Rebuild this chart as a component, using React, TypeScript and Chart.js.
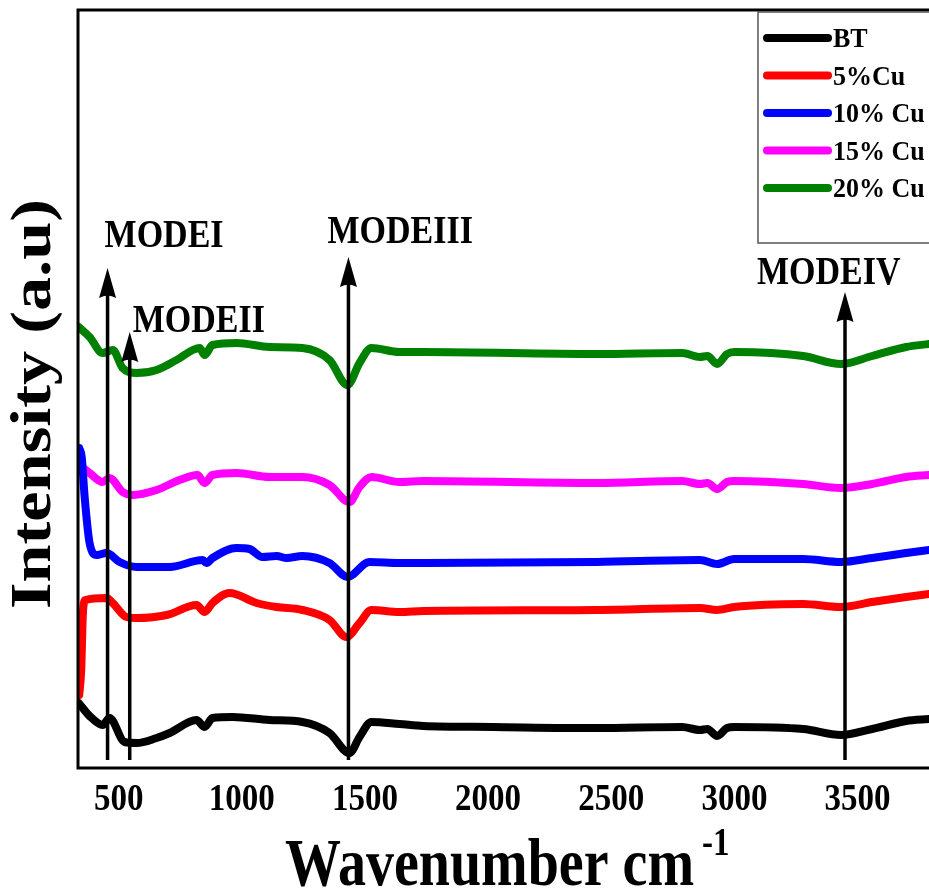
import React, { useEffect, useRef } from "react";
import { Chart, registerables } from "chart.js";

Chart.register(...registerables);

// ---------- data ----------
const xTicks = [500, 1000, 1500, 2000, 2500, 3000, 3500];
const xMin = 335;
const xMax = 3790;

const seriesLabels = ["BT", "5%Cu", "10% Cu", "15% Cu", "20% Cu"];
const seriesColors = ["#000000", "#ff0000", "#0000ff", "#ff00ff", "#008000"];

const btWave = [338, 382, 435, 463, 524, 573, 654, 707, 816, 849, 881, 962, 1113, 1246, 1356, 1437, 1478, 1526, 1640, 1737, 2017, 2439, 2788, 2860, 2890, 2930, 2970, 3000, 3279, 3433, 3559, 3697, 3790];
const btInt = [65, 52, 43, 50, 26, 25, 30, 35, 48, 41, 50, 51, 48, 46, 35, 15, 31, 46, 44, 42, 41, 40, 41, 38, 39, 32, 40, 41, 39, 33, 39, 47, 49];

const cu5Wave = [340, 348, 355, 365, 451, 476, 532, 573, 695, 816, 849, 881, 950, 1060, 1141, 1246, 1356, 1425, 1478, 1526, 1640, 1737, 2439, 2860, 2930, 2999, 3279, 3433, 3559, 3697, 3790];
const cu5Int = [73, 98, 155, 168, 170, 165, 151, 150, 153, 163, 156, 165, 175, 165, 161, 158, 148, 131, 145, 158, 156, 157, 158, 160, 158, 161, 164, 161, 166, 171, 174];

const cu10Wave = [340, 350, 362, 382, 411, 451, 504, 573, 707, 841, 857, 881, 979, 1031, 1084, 1141, 1182, 1246, 1356, 1429, 1518, 1640, 1737, 2439, 2860, 2930, 2999, 3279, 3433, 3559, 3697, 3790];
const cu10Int = [320, 311, 271, 225, 213, 215, 206, 201, 201, 208, 205, 210, 220, 219, 211, 212, 210, 212, 205, 191, 206, 205, 205, 206, 208, 204, 209, 209, 206, 210, 215, 218];

const cu15Wave = [340, 382, 435, 463, 516, 557, 654, 747, 820, 849, 881, 979, 1113, 1246, 1356, 1437, 1478, 1526, 1640, 1737, 2439, 2788, 2860, 2890, 2930, 2970, 3000, 3279, 3433, 3559, 3697, 3790];
const cu15Int = [303, 295, 286, 290, 276, 273, 278, 288, 293, 285, 293, 295, 291, 291, 283, 266, 281, 291, 286, 287, 285, 287, 284, 285, 279, 286, 287, 284, 280, 284, 291, 293];

const cu20Wave = [338, 382, 435, 476, 516, 573, 654, 735, 829, 849, 881, 979, 1113, 1246, 1356, 1429, 1478, 1526, 1640, 1737, 2439, 2788, 2860, 2890, 2930, 2970, 3000, 3279, 3433, 3559, 3697, 3790];
const cu20Int = [441, 431, 415, 418, 400, 395, 398, 408, 420, 413, 423, 425, 421, 420, 408, 383, 405, 420, 416, 416, 414, 415, 411, 412, 404, 414, 416, 412, 404, 412, 421, 424];

const modeLabels = ["MODEI", "MODEII", "MODEIII", "MODEIV"];
const modeWave = [455, 545, 1433, 3449];
const modeTip = [500, 436, 511, 476];
const arrowBase = 8;

const xTitle = "Wavenumber cm";
const xTitleSup = "-1";
const yTitle = "Intensity (a.u)";

// ---------- styles ----------
const FONT = '"Liberation Serif", "Times New Roman", serif';
const modeTextOffset = [
  { dx: -3, dy: -21 },
  { dx: 3, dy: 0 },
  { dx: -21, dy: -14 },
  { dx: -88, dy: -8 },
];

function stretchedText(
  ctx: CanvasRenderingContext2D,
  text: string,
  x: number,
  y: number,
  size: number,
  sy: number,
  align: CanvasTextAlign = "left"
) {
  ctx.save();
  ctx.translate(x, y);
  ctx.scale(1, sy);
  ctx.font = `bold ${size}px ${FONT}`;
  ctx.textAlign = align;
  ctx.textBaseline = "alphabetic";
  ctx.fillStyle = "#000";
  ctx.fillText(text, 0, 0);
  ctx.restore();
}

const decorPlugin = {
  id: "decor",
  afterDatasetsDraw(chart: any) {
    const ctx: CanvasRenderingContext2D = chart.ctx;
    const { left, top, right, bottom } = chart.chartArea;
    const xs = chart.scales.x;
    const ys = chart.scales.y;

    // frame
    ctx.save();
    ctx.strokeStyle = "#000";
    ctx.lineWidth = 3;
    ctx.beginPath();
    ctx.moveTo(right + 5, top);
    ctx.lineTo(left, top);
    ctx.lineTo(left, bottom);
    ctx.lineTo(right + 5, bottom);
    ctx.stroke();
    ctx.restore();

    // arrows + mode labels
    modeWave.forEach((w, i) => {
      const px = xs.getPixelForValue(w);
      const tip = ys.getPixelForValue(modeTip[i]);
      const base = ys.getPixelForValue(arrowBase);
      const headH = 30;
      const headW = 8.5;
      ctx.save();
      ctx.strokeStyle = "#000";
      ctx.fillStyle = "#000";
      ctx.lineWidth = 3.5;
      ctx.beginPath();
      ctx.moveTo(px, base);
      ctx.lineTo(px, tip + headH - 4);
      ctx.stroke();
      ctx.beginPath();
      ctx.moveTo(px, tip);
      ctx.lineTo(px - headW, tip + headH);
      ctx.quadraticCurveTo(px, tip + headH - 5, px + headW, tip + headH);
      ctx.closePath();
      ctx.fill();
      ctx.restore();
      const off = modeTextOffset[i];
      stretchedText(ctx, modeLabels[i], px + off.dx, tip + off.dy, 34, 1.2);
    });

    // legend
    const lx = 758;
    const ly = 12;
    ctx.save();
    ctx.fillStyle = "#fff";
    ctx.fillRect(lx, ly, 240, 231);
    ctx.strokeStyle = "#555";
    ctx.lineWidth = 1.5;
    ctx.strokeRect(lx, ly, 240, 231);
    chart.data.datasets.forEach((ds: any, i: number) => {
      const cy = 38 + i * 37.5;
      ctx.strokeStyle = ds.borderColor;
      ctx.lineWidth = 8;
      ctx.lineCap = "round";
      ctx.beginPath();
      ctx.moveTo(lx + 9, cy);
      ctx.lineTo(lx + 70, cy);
      ctx.stroke();
      ctx.save();
      ctx.translate(lx + 75, cy + 9);
      ctx.scale(1, 1.08);
      ctx.font = `bold 26px ${FONT}`;
      ctx.fillStyle = "#000";
      ctx.textAlign = "left";
      ctx.textBaseline = "alphabetic";
      ctx.fillText(ds.label, 0, 0);
      ctx.restore();
    });
    ctx.restore();
  },
  afterDraw(chart: any) {
    const ctx: CanvasRenderingContext2D = chart.ctx;
    const { left, top, right, bottom } = chart.chartArea;
    const xs = chart.scales.x;

    // tick labels
    xs.ticks.forEach((t: any) => {
      const px = xs.getPixelForValue(t.value);
      stretchedText(ctx, String(t.value), px, bottom + 42, 33, 1.15, "center");
    });

    // x title
    const titleLeft = left + 207;
    const titleBase = bottom + 117;
    stretchedText(ctx, xTitle, titleLeft, titleBase, 56, 1.2, "left");
    ctx.save();
    ctx.font = `bold 56px ${FONT}`;
    const w = ctx.measureText(xTitle).width;
    ctx.restore();
    stretchedText(ctx, xTitleSup, titleLeft + w + 8, titleBase - 30, 33, 1.2, "left");

    // y title
    ctx.save();
    ctx.translate(50, (top + bottom) / 2 + 15);
    ctx.rotate(-Math.PI / 2);
    ctx.scale(1.22, 1);
    ctx.font = `bold 56px ${FONT}`;
    ctx.textAlign = "center";
    ctx.textBaseline = "alphabetic";
    ctx.fillStyle = "#000";
    ctx.fillText(yTitle, 0, 0);
    ctx.restore();
  },
};

function makeSeries(wave: number[], vals: number[]) {
  return wave.map((w, i) => ({ x: w, y: vals[i] }));
}

export default function App() {
  const ref = useRef<HTMLCanvasElement | null>(null);

  useEffect(() => {
    document.body.style.margin = "0";
    const canvas = ref.current;
    if (!canvas) return;
    const waves = [btWave, cu5Wave, cu10Wave, cu15Wave, cu20Wave];
    const ints = [btInt, cu5Int, cu10Int, cu15Int, cu20Int];
    const chart = new Chart(canvas, {
      type: "line",
      data: {
        datasets: seriesLabels.map((label, i) => ({
          label,
          data: makeSeries(waves[i], ints[i]),
          borderColor: seriesColors[i],
          backgroundColor: seriesColors[i],
          borderWidth: 8,
          pointRadius: 0,
          cubicInterpolationMode: "monotone" as const,
          borderCapStyle: "round" as const,
          borderJoinStyle: "round" as const,
          fill: false,
        })),
      },
      options: {
        animation: false,
        responsive: false,
        maintainAspectRatio: false,
        layout: { padding: { top: 10, left: 0, right: 0, bottom: 0 } },
        plugins: {
          legend: { display: false },
          tooltip: { enabled: false },
        },
        scales: {
          x: {
            type: "linear",
            min: xMin,
            max: xMax,
            afterBuildTicks: (s: any) => {
              s.ticks = xTicks.map((v) => ({ value: v }));
            },
            afterFit: (s: any) => {
              s.height = 127;
            },
            ticks: { display: false },
            grid: { display: false, drawTicks: false },
            border: { display: false },
          },
          y: {
            type: "linear",
            min: 0,
            max: 758,
            afterFit: (s: any) => {
              s.width = 78;
            },
            ticks: { display: false },
            grid: { display: false, drawTicks: false },
            border: { display: false },
          },
        },
      },
      plugins: [decorPlugin],
    });
    return () => chart.destroy();
  }, []);

  return (
    <div style={{ width: 929, height: 895, background: "#fff" }}>
      <canvas ref={ref} width={929} height={895} style={{ display: "block", width: 929, height: 895 }} />
    </div>
  );
}
